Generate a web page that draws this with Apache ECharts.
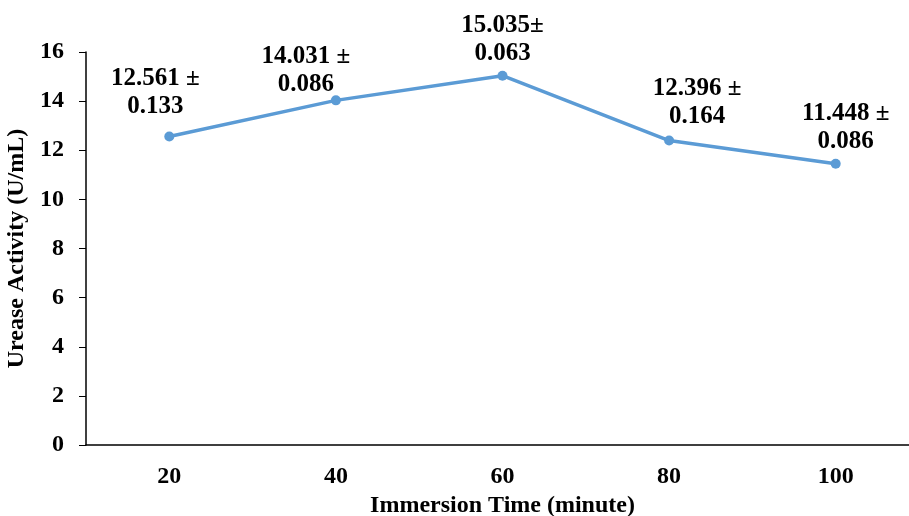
<!DOCTYPE html>
<html>
<head>
<meta charset="utf-8">
<script src="https://cdn.jsdelivr.net/npm/echarts@6/dist/echarts.min.js"></script>
<style>
  html, body { margin: 0; padding: 0; background: #fff; }
  #chart { width: 909px; height: 516px; }
</style>
</head>
<body>
<div id="chart"></div>
<script>
// Urease activity over immersion time
const times = ['20', '40', '60', '80', '100'];
const means = [12.561, 14.031, 15.035, 12.396, 11.448];
const sds = ['0.133', '0.086', '0.063', '0.164', '0.086'];
const meanText = ['12.561 ±', '14.031 ±', '15.035±', '12.396 ±', '11.448 ±'];
const yTicks = [0, 2, 4, 6, 8, 10, 12, 14, 16];

// per-point label placement [dx, dy]
const labelOffsets = [[-14, 3], [-30, 17], [0, 11], [28, 9], [10, 11]];

const FONT = '"Liberation Serif", "Times New Roman", serif';

const chart = echarts.init(document.getElementById('chart'));

const seriesData = means.map((v, i) => ({
  value: v,
  label: {
    offset: labelOffsets[i],
    formatter: meanText[i] + '\n' + sds[i]
  }
}));

chart.setOption({
  animation: false,
  backgroundColor: '#fff',
  grid: { left: 86, right: -10, top: 52, bottom: 71, containLabel: false, outerBoundsMode: 'none' },
  xAxis: {
    type: 'category',
    data: times,
    boundaryGap: true,
    name: 'Immersion Time (minute)',
    nameLocation: 'middle',
    nameGap: 47,
    nameTextStyle: { fontFamily: FONT, fontWeight: 'bold', fontSize: 24, color: '#000' },
    axisLine: { lineStyle: { color: '#000', width: 1.5 } },
    axisTick: { alignWithLabel: true, length: 6, lineStyle: { color: '#000', width: 1 } },
    axisLabel: { margin: 20, fontFamily: FONT, fontWeight: 'bold', fontSize: 24, color: '#000' },
    splitLine: { show: false }
  },
  yAxis: {
    type: 'value',
    min: yTicks[0],
    max: yTicks[yTicks.length - 1],
    interval: 2,
    name: 'Urease Activity (U/mL)',
    nameLocation: 'middle',
    nameGap: 48,
    nameTextStyle: { fontFamily: FONT, fontWeight: 'bold', fontSize: 24, color: '#000' },
    axisLine: { show: true, lineStyle: { color: '#000', width: 1.5 } },
    axisTick: { show: true, length: 7, lineStyle: { color: '#000', width: 1 } },
    axisLabel: { margin: 22, fontFamily: FONT, fontWeight: 'bold', fontSize: 24, color: '#000' },
    splitLine: { show: false }
  },
  series: [{
    type: 'line',
    data: seriesData,
    symbol: 'circle',
    symbolSize: 10,
    lineStyle: { color: '#5B9BD5', width: 3.5 },
    itemStyle: { color: '#5B9BD5' },
    label: {
      show: true,
      position: 'top',
      distance: 14,
      fontFamily: FONT,
      fontWeight: 'bold',
      fontSize: 25,
      lineHeight: 28,
      color: '#000',
      align: 'center'
    }
  }]
});
</script>
</body>
</html>
